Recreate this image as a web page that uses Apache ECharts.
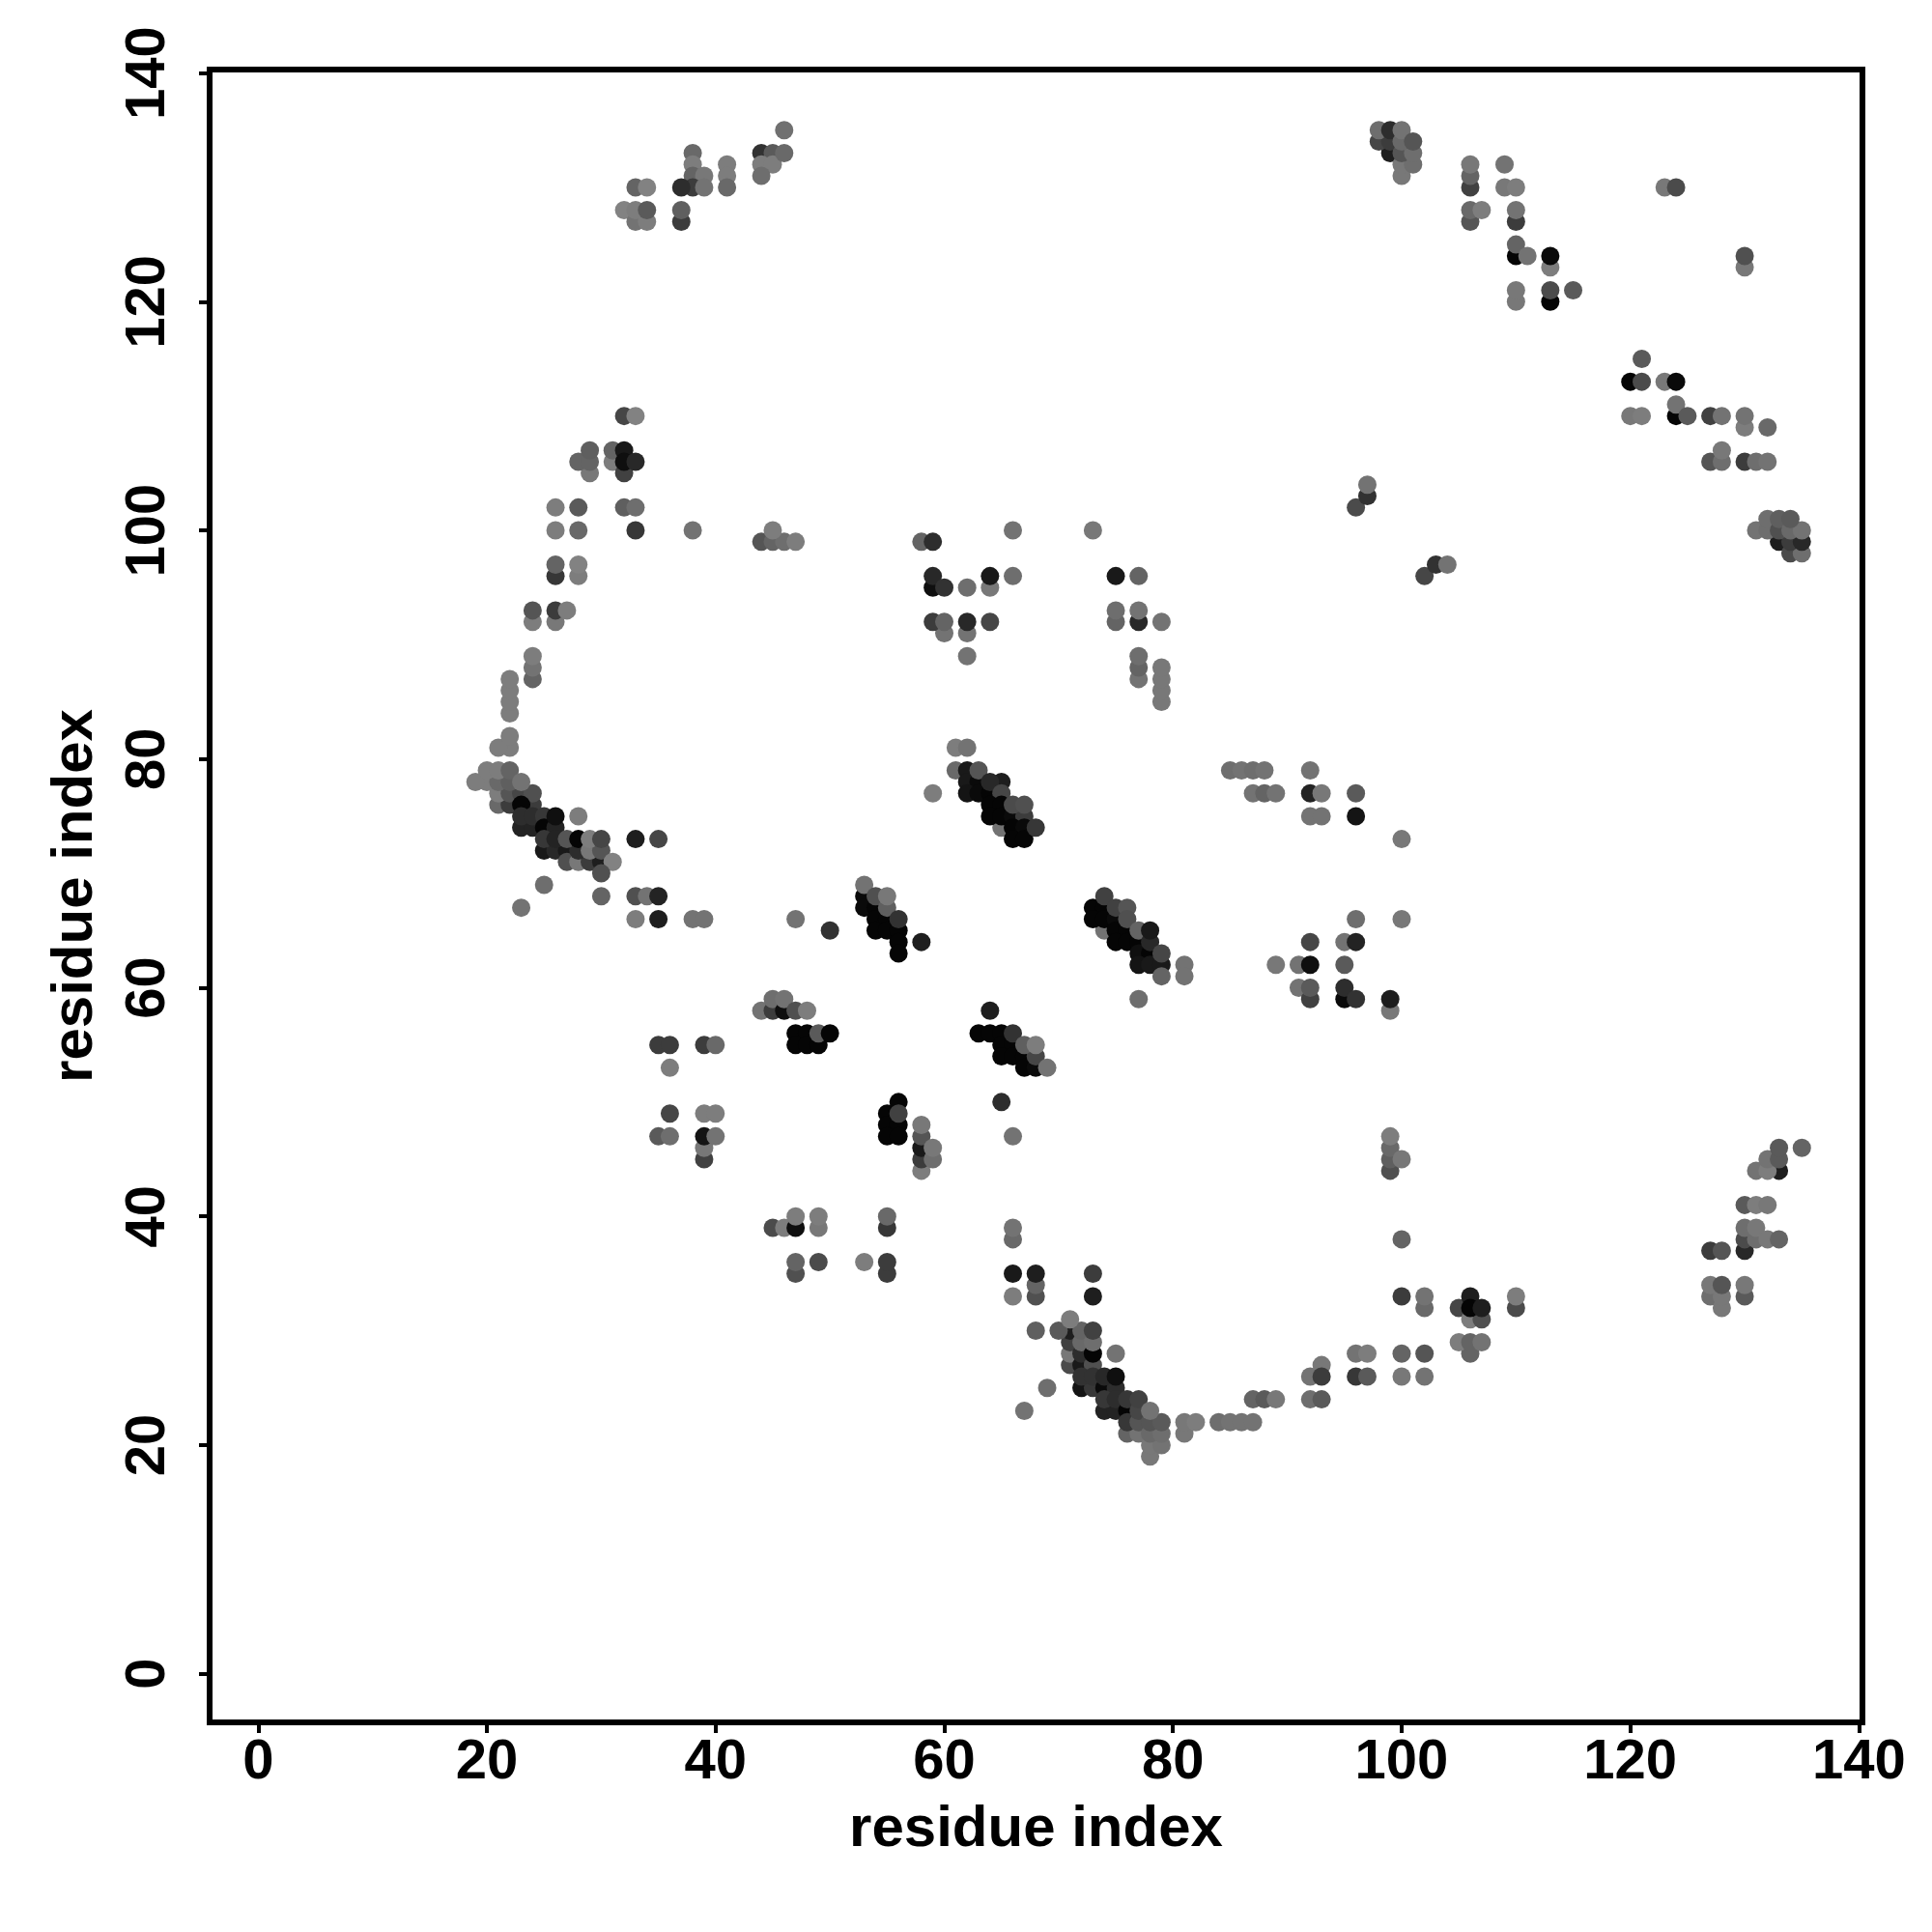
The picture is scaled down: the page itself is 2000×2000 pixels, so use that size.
<!DOCTYPE html>
<html>
<head>
<meta charset="utf-8">
<script src="https://cdn.jsdelivr.net/npm/echarts@6/dist/echarts.min.js"></script>
<style>html,body{margin:0;padding:0;background:#fff}#c{width:2000px;height:2000px}</style>
</head>
<body>
<div id="c"></div>
<script>
const tickValues = [0,20,40,60,80,100,120,140];
const axisTitle = "residue index";
// each contact: [residue x, residue y, grey level of the dot]
const topLeftContacts = [[46,135,112],[44,133,50],[45,133,90],[44,132,125],[45,132,125],[46,133,105],[44,131,110],[41,132,125],[41,131,125],[41,130,105],[38,133,105],[38,132,125],[38,131,100],[39,131,120],[38,130,60],[37,130,45],[39,130,115],[37,127,60],[37,128,95],[32,128,130],[33,127,115],[34,127,125],[33,128,125],[34,128,90],[33,130,100],[34,130,130]];
const upperArcContacts = [[32,110,70],[33,110,130],[29,105,120],[28,106,100],[29,106,100],[29,107,95],[31,106,125],[31,107,100],[32,105,65],[32,107,25],[32,106,15],[33,106,40],[32,102,95],[33,102,110],[33,100,55],[38,100,115],[26,102,125],[28,102,90],[26,100,125],[28,100,105],[26,96,55],[26,97,100],[28,96,125],[28,97,130],[24,92,125],[24,93,85],[26,92,120],[26,93,60],[27,93,125],[24,87,100],[24,88,115],[24,89,125],[22,84,125],[22,85,125],[22,86,125],[22,87,125],[22,81,125],[21,81,125],[22,82,125],[44,99,85],[45,99,100],[46,99,110],[47,99,125],[45,100,125]];
const leftArcContacts = [[21,76,105],[22,76,60],[24,76,60],[21,77,125],[22,77,85],[23,77,70],[24,77,80],[20,78,125],[21,78,105],[22,78,95],[19,78,125],[20,79,125],[21,79,125],[22,79,100],[23,78,115],[23,76,5],[23,74,35],[24,74,35],[23,75,45],[24,75,45],[25,75,55],[25,74,5],[26,74,35],[26,75,15],[25,72,25],[26,72,40],[27,72,25],[25,73,55],[26,73,35],[27,71,80],[28,71,120],[29,71,60],[30,71,30],[28,72,45],[27,73,85],[28,73,5],[29,72,120],[30,72,85],[29,73,125],[30,73,70],[31,71,130],[30,70,80],[28,75,125],[33,73,30],[35,73,70],[25,69,110],[23,67,115],[30,68,100],[33,68,80],[34,68,115],[35,68,35],[33,66,125],[35,66,30],[38,66,115],[39,66,115]];
const helixAContacts = [[53,68,10],[53,67,10],[54,67,5],[54,66,5],[55,66,5],[54,65,5],[55,65,5],[56,65,5],[56,64,5],[56,63,5],[53,69,115],[54,68,80],[55,67,95],[55,68,120],[56,66,50],[58,64,30],[50,65,50],[47,66,115]];
const helixBContacts = [[61,81,125],[62,81,115],[61,79,105],[62,79,25],[62,78,25],[63,78,10],[62,77,20],[63,77,10],[64,77,5],[63,79,85],[65,78,30],[64,78,40],[65,74,115],[65,77,70],[64,76,5],[65,76,5],[64,75,5],[65,75,5],[66,75,10],[67,75,60],[66,76,75],[67,76,80],[66,74,5],[67,74,10],[66,73,5],[67,73,5],[68,74,55],[59,77,125]];
const helixCContacts = [[74,65,115],[73,67,5],[74,67,5],[73,66,5],[74,66,5],[75,66,10],[74,68,65],[75,65,5],[76,65,5],[75,64,5],[76,64,5],[77,64,5],[75,67,65],[76,67,85],[76,66,80],[77,63,15],[78,63,5],[77,62,20],[78,62,25],[79,62,25],[77,65,100],[78,64,40],[78,65,25],[79,61,100],[79,63,70],[81,62,115],[81,61,115],[77,59,110]];
const helixDContacts = [[64,58,30],[63,56,5],[64,56,5],[65,56,5],[65,55,5],[66,55,5],[65,54,5],[66,54,5],[67,54,5],[66,56,50],[67,53,5],[68,53,10],[68,54,70],[67,55,95],[68,55,125],[69,53,115],[65,50,45],[66,47,115]];
const centerContacts = [[44,58,115],[45,58,60],[45,59,110],[46,58,15],[46,59,115],[47,58,80],[48,58,125],[47,56,5],[48,56,5],[47,55,5],[48,55,5],[49,55,5],[49,56,90],[50,56,5],[35,55,60],[36,55,60],[39,55,60],[40,55,105],[36,53,125],[36,49,70],[39,49,125],[40,49,125],[35,47,90],[36,47,110],[39,45,65],[39,46,120],[39,47,20],[40,47,115],[55,49,5],[55,48,5],[56,48,5],[55,47,5],[56,47,5],[56,50,5],[56,49,65],[58,44,125],[58,45,60],[58,46,25],[58,47,85],[58,48,120],[59,45,110],[59,46,120],[45,39,75],[46,39,125],[47,39,15],[47,40,125],[49,39,120],[49,40,125],[47,35,80],[47,36,100],[49,36,75],[53,36,125],[55,35,60],[55,36,60],[55,39,55],[55,40,105]];
const lowerArcContacts = [[66,38,105],[66,39,115],[66,33,125],[66,35,25],[68,33,80],[68,34,100],[68,35,30],[73,33,30],[73,35,60],[68,30,95],[67,23,115],[69,25,110],[75,28,115],[71,27,75],[71,28,120],[71,29,65],[71,30,30],[70,30,90],[72,27,25],[72,28,45],[73,27,80],[72,29,105],[72,30,100],[73,28,5],[73,29,110],[73,30,65],[71,31,125],[72,25,20],[73,25,55],[72,26,50],[73,26,50],[74,25,10],[75,25,45],[74,26,40],[75,26,15],[74,23,35],[75,23,35],[74,24,55],[75,24,45],[76,23,5],[76,24,55],[76,21,100],[77,21,115],[76,22,55],[77,22,85],[77,23,70],[77,24,65],[78,19,120],[78,20,120],[79,20,115],[78,21,105],[79,21,110],[78,22,85],[79,22,90],[78,23,115],[81,21,120],[81,22,120],[82,22,125],[84,22,110],[85,22,115],[86,22,115],[87,22,115],[87,24,100],[88,24,90],[89,24,120],[92,24,110],[93,24,90],[92,26,115],[93,27,120],[93,26,60],[96,26,55],[97,26,90],[96,28,115],[97,28,125],[100,26,120],[102,26,115],[100,28,100],[102,28,85],[100,33,60],[102,32,105],[102,33,115]];
const lowerRightContacts = [[105,32,70],[106,31,125],[107,31,80],[106,33,30],[106,32,5],[107,32,30],[106,28,100],[105,29,125],[106,29,100],[107,29,115],[110,32,75],[110,33,125],[100,38,100],[99,44,80],[99,45,95],[99,46,105],[99,47,125],[100,45,120],[99,58,120],[99,59,30],[133,44,30],[131,44,115],[132,44,125],[132,45,115],[133,45,90],[133,46,90],[135,46,100],[130,41,90],[131,41,125],[132,41,120],[130,37,40],[130,38,75],[131,38,110],[130,39,110],[131,39,120],[132,38,120],[133,38,100],[127,37,60],[128,37,85],[127,33,110],[127,34,120],[128,32,120],[128,33,120],[128,34,85],[130,33,90],[130,34,120]];
const upperRightContacts = [[99,133,30],[98,134,70],[99,134,60],[98,135,110],[99,135,45],[100,131,120],[100,132,120],[101,132,110],[100,133,85],[101,133,110],[100,134,105],[100,135,115],[101,134,85],[106,130,65],[106,131,100],[106,132,120],[106,127,85],[106,128,105],[107,128,125],[109,132,115],[109,130,120],[110,130,125],[110,127,60],[110,128,115],[110,124,5],[110,125,100],[111,124,115],[113,123,125],[113,124,10],[110,120,120],[110,121,120],[113,120,5],[113,121,75],[115,121,90],[123,130,120],[124,130,75],[130,123,120],[130,124,80],[121,115,90],[120,113,5],[121,113,75],[123,113,120],[124,113,10],[120,110,120],[121,110,125],[124,110,5],[124,111,115],[125,110,90],[127,110,65],[128,110,115],[130,109,125],[130,110,115],[132,109,105],[127,106,85],[128,106,110],[128,107,120],[130,106,60],[131,106,110],[132,106,115],[96,102,75],[97,103,50],[97,104,115],[102,96,70],[103,97,50],[104,97,115],[133,99,30],[134,98,75],[135,98,110],[134,99,60],[135,99,40],[131,100,115],[132,100,110],[132,101,110],[133,100,80],[133,101,95],[134,100,105],[135,100,115],[134,101,90]];
const middleContacts = [[58,99,100],[59,99,45],[59,95,15],[59,96,40],[60,95,50],[62,95,110],[64,95,120],[64,96,25],[66,96,110],[66,100,115],[60,91,115],[59,92,60],[60,92,100],[62,89,115],[62,91,115],[62,92,40],[64,92,70],[73,100,120],[75,96,25],[77,96,100],[75,92,100],[75,93,110],[77,92,40],[77,93,115],[79,92,115],[77,87,115],[77,88,100],[77,89,110],[79,85,120],[79,86,120],[79,87,120],[79,88,120],[85,79,110],[86,79,115],[87,79,110],[88,79,115],[87,77,115],[88,77,100],[89,77,115],[92,79,115],[92,77,35],[93,77,120],[96,77,90],[92,75,115],[93,75,115],[96,75,20],[100,73,120],[100,66,120],[96,66,110],[95,64,115],[96,64,35],[92,64,70],[89,62,120],[91,62,115],[92,62,15],[95,62,90],[91,60,115],[92,59,65],[92,60,90],[95,59,10],[95,60,45],[96,59,50]];

const contactGroups = [topLeftContacts, upperArcContacts, leftArcContacts, helixAContacts, helixBContacts, helixCContacts, helixDContacts, centerContacts, lowerArcContacts, lowerRightContacts, upperRightContacts, middleContacts];
const contacts = contactGroups.flat();

const fontFamily = '"Liberation Sans", Arial, sans-serif';
const chart = echarts.init(document.getElementById('c'), null, {renderer: 'canvas'});
function axisBase(){
  return {
    type: 'value', min: -4.25, max: 140.3,
    name: axisTitle, nameLocation: 'middle',
    nameTextStyle: {fontFamily, fontWeight: 'bold', fontSize: 60, color: '#000'},
    splitLine: {show: false},
    axisLine: {show: true, onZero: false, lineStyle: {color: '#000', width: 6}},
    axisTick: {show: true, length: 11, inside: false, customValues: tickValues, lineStyle: {color: '#000', width: 4}},
    axisLabel: {show: true, customValues: tickValues, fontFamily, fontWeight: 'bold', fontSize: 58, color: '#000'}
  };
}
const xAxis = axisBase();
xAxis.nameGap = 81;
xAxis.axisLabel.margin = 13;
const yAxis = axisBase();
yAxis.nameGap = 109;
yAxis.nameRotate = 90;
yAxis.axisLabel.rotate = 90;
yAxis.axisLabel.margin = 34;
chart.setOption({
  animation: false,
  backgroundColor: '#fff',
  grid: {show: true, left: 217, top: 72, width: 1711, height: 1711, borderColor: '#000', borderWidth: 6, backgroundColor: '#fff', containLabel: false},
  xAxis, yAxis,
  series: [{
    type: 'scatter', symbol: 'circle', symbolSize: 19, large: false, clip: false,
    data: contacts.map(c => ({value: [c[0], c[1]], itemStyle: {color: `rgb(${c[2]},${c[2]},${c[2]})`, opacity: 1}}))
  }]
});
</script>
</body>
</html>
